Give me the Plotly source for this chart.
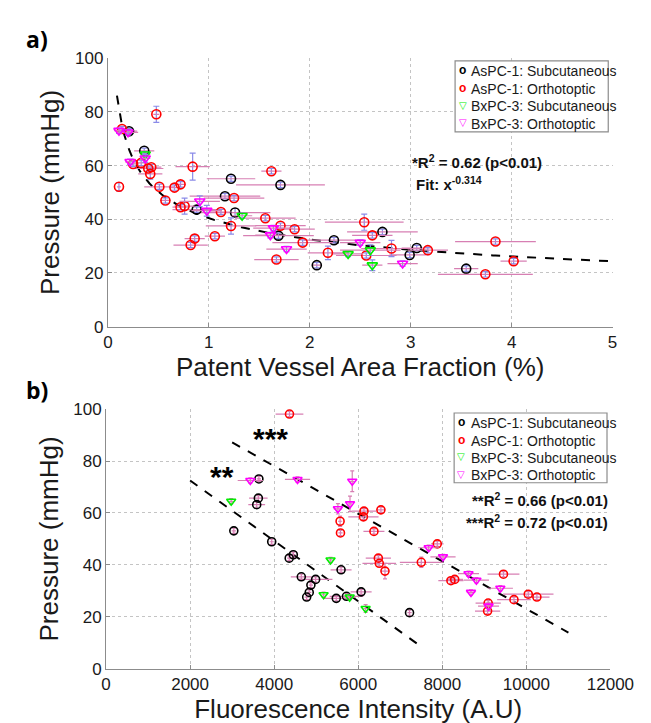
import numpy as np
import plotly.graph_objects as go

W, H = 651, 723
FONT = "Liberation Sans, Arial, Helvetica, sans-serif"

# ---------------- Panel a data: Patent vessel area fraction (%) vs pressure (mmHg)
a_sub1_x = [0.21, 0.36, 1.22, 1.71, 1.16, 0.88, 1.26, 1.69, 2.07, 2.24, 2.72, 3.06, 2.99, 3.55]
a_sub1_y = [72.8, 65.5, 55.1, 52.8, 48.6, 43.6, 42.5, 33.9, 22.9, 32.2, 35.3, 29.3, 26.7, 21.6]
a_sub1_xe = [0.08, 0.10, 0.24, 0.44, 0.35, 0.24, 0.35, 0.35, 0.05, 0.30, 0.35, 0.15, 0.20, 0.12]
a_sub1_ye = [1.0, 1.0, 1.0, 1.0, 1.0, 1.0, 1.5, 1.0, 1.0, 1.0, 1.0, 1.0, 1.0, 1.0]

a_ort1_x = [0.48, 0.14, 0.25, 0.33, 0.40, 0.43, 0.42, 0.11, 0.51, 0.66, 0.72, 0.84, 0.57, 0.76,
            0.72, 0.86, 0.82, 1.06, 1.12, 1.25, 1.22, 1.62, 1.56, 1.71, 1.85, 1.67, 1.93, 2.18,
            2.54, 2.62, 2.56, 2.81, 3.17, 3.84, 4.02, 3.74]
a_ort1_y = [79.1, 73.6, 60.6, 61.0, 58.9, 59.4, 56.9, 52.1, 52.1, 51.8, 53.0, 59.6, 47.0, 44.9,
            44.5, 32.8, 30.4, 33.7, 42.7, 47.9, 37.5, 57.9, 40.4, 37.6, 36.3, 25.0, 31.3, 27.5,
            38.9, 34.0, 26.5, 29.1, 28.5, 31.7, 24.4, 19.5]
a_ort1_xe = [0.03, 0.05, 0.05, 0.07, 0.15, 0.10, 0.12, 0.02, 0.15, 0.05, 0.05, 0.17, 0.05, 0.10,
             0.08, 0.10, 0.17, 0.10, 0.10, 0.30, 0.25, 0.10, 0.30, 0.25, 0.20, 0.22, 0.30, 0.20,
             0.39, 0.20, 0.30, 0.30, 0.20, 0.40, 0.13, 0.47]
a_ort1_ye = [3.0, 1.0, 1.0, 1.0, 1.0, 1.0, 2.0, 1.5, 1.0, 1.0, 1.0, 5.0, 1.0, 3.0,
             1.0, 1.0, 1.0, 1.0, 1.0, 1.0, 3.0, 1.0, 1.0, 1.0, 1.0, 1.0, 1.0, 2.5,
             3.0, 1.0, 1.0, 3.0, 1.0, 1.0, 1.0, 1.0]

a_sub3_x = [0.37, 1.33, 2.38, 2.60, 2.62]
a_sub3_y = [64.2, 41.3, 27.1, 28.5, 22.9]
a_sub3_xe = [0.05, 0.10, 0.15, 0.30, 0.10]
a_sub3_ye = [1.0, 1.0, 1.0, 2.0, 2.0]

a_ort3_x = [0.11, 0.20, 0.22, 0.37, 0.91, 0.98, 1.64, 1.61, 1.77, 2.50, 2.92]
a_ort3_y = [73.0, 72.4, 61.4, 62.7, 46.7, 43.2, 36.7, 34.1, 28.9, 31.3, 23.5]
a_ort3_xe = [0.05, 0.10, 0.05, 0.05, 0.20, 0.15, 0.20, 0.15, 0.20, 0.20, 0.15]
a_ort3_ye = [1.0, 1.0, 1.0, 1.5, 2.0, 2.0, 1.0, 1.0, 1.0, 1.0, 1.0]

a_fit_coef = 40.4
a_fit_exp = -0.314
a_fit_range = [0.09, 5.0]

# ---------------- Panel b data: Fluorescence intensity (A.U) vs pressure (mmHg)
b_sub1_x = [3636, 3623, 3584, 3039, 3941, 4455, 4357, 4645, 4986, 4873, 4834, 4773, 5591, 5477,
            5720, 6068, 7220]
b_sub1_y = [73.1, 65.7, 63.2, 53.1, 48.9, 43.9, 42.6, 35.4, 34.4, 32.2, 29.4, 27.6, 38.1, 27.1,
            27.9, 29.6, 21.6]
b_sub1_xe = [50, 220, 200, 50, 50, 50, 50, 250, 400, 50, 50, 50, 250, 300, 400, 250, 50]
b_sub1_ye = [1.0] * 17

b_ort1_x = [4364, 5568, 5577, 6136, 6123, 6373, 6539, 6478, 6500, 6636, 7500, 7880, 8205, 8295,
            9455, 9705, 10045, 10250, 9091, 9077]
b_ort1_y = [98.1, 56.8, 52.3, 60.7, 58.5, 52.9, 61.2, 42.6, 40.6, 37.6, 41.0, 48.1, 33.9, 34.4,
            36.4, 26.6, 28.7, 27.6, 25.3, 22.2]
b_ort1_xe = [330, 50, 50, 300, 360, 250, 100, 300, 400, 100, 510, 150, 300, 200,
             380, 400, 600, 300, 300, 300]
b_ort1_ye = [1.0, 2.0, 1.0, 1.0, 1.0, 1.0, 1.0, 1.0, 1.0, 3.0, 2.0, 1.0, 1.0, 1.0,
             1.0, 1.0, 1.0, 1.0, 1.0, 1.0]

b_sub3_x = [2977, 5341, 5175, 5795, 6175]
b_sub3_y = [64.5, 41.9, 28.5, 27.6, 23.2]
b_sub3_xe = [50, 50, 50, 150, 50]
b_sub3_ye = [1.0, 1.0, 1.0, 1.0, 1.5]

b_ort3_x = [3432, 4555, 5857, 5804, 5516, 7675, 8016, 8623, 8811, 8682, 9380, 9100]
b_ort3_y = [72.5, 72.9, 72.2, 63.5, 61.6, 46.6, 43.1, 36.6, 34.1, 29.4, 31.0, 24.1]
b_ort3_xe = [300, 300, 50, 50, 100, 250, 300, 250, 300, 100, 300, 250]
b_ort3_ye = [1.0, 1.0, 4.0, 3.0, 2.0, 1.0, 1.0, 1.0, 1.0, 1.0, 1.0, 1.5]

# linear fits (slope, intercept, x-range)
b_fit2 = (-0.011636, 95.77, [2000, 7500])    # ** fit
b_fit3 = (-0.0091625, 114.69, [3000, 11000])  # *** fit

series_names = ["AsPC-1: Subcutaneous", "AsPC-1: Orthotoptic",
                "BxPC-3: Subcutaneous", "BxPC-3: Orthotoptic"]
series_colors = ["#000000", "#ff0000", "#00ee00", "#ff00ff"]
series_symbols = ["circle-open", "circle-open", "triangle-down-open", "triangle-down-open"]
legend_glyphs = [("o", FONT, 12), ("o", FONT, 12),
                 ("▽", "DejaVu Sans, sans-serif", 10), ("▽", "DejaVu Sans, sans-serif", 10)]

PINK = "#d77fb3"
BLUE = "#8b8be8"

fig = go.Figure()

panel_a = [(a_sub1_x, a_sub1_y, a_sub1_xe, a_sub1_ye),
           (a_ort1_x, a_ort1_y, a_ort1_xe, a_ort1_ye),
           (a_sub3_x, a_sub3_y, a_sub3_xe, a_sub3_ye),
           (a_ort3_x, a_ort3_y, a_ort3_xe, a_ort3_ye)]
panel_b = [(b_sub1_x, b_sub1_y, b_sub1_xe, b_sub1_ye),
           (b_ort1_x, b_ort1_y, b_ort1_xe, b_ort1_ye),
           (b_sub3_x, b_sub3_y, b_sub3_xe, b_sub3_ye),
           (b_ort3_x, b_ort3_y, b_ort3_xe, b_ort3_ye)]

# fit curve panel a
fx = np.linspace(a_fit_range[0], a_fit_range[1], 200)
fig.add_trace(go.Scatter(x=fx, y=a_fit_coef * fx ** a_fit_exp, mode="lines",
                         line=dict(color="black", width=2, dash="dash"),
                         showlegend=False, xaxis="x", yaxis="y", hoverinfo="skip"))

for (x, y, xe, ye), nm, c, s in zip(panel_a, series_names, series_colors, series_symbols):
    fig.add_trace(go.Scatter(
        x=x, y=y, mode="markers", name=nm, showlegend=False,
        marker=dict(symbol=s, color=c, size=9, line=dict(width=1.6, color=c)),
        error_x=dict(type="data", array=xe, color=PINK, thickness=1.2, width=0),
        error_y=dict(type="data", array=ye, color=BLUE, thickness=1.2, width=3),
        xaxis="x", yaxis="y"))

for slope, icpt, rng in (b_fit2, b_fit3):
    lx = np.array(rng, dtype=float)
    fig.add_trace(go.Scatter(x=lx, y=icpt + slope * lx, mode="lines",
                             line=dict(color="black", width=2, dash="dash"),
                             showlegend=False, xaxis="x2", yaxis="y2", hoverinfo="skip"))

for (x, y, xe, ye), nm, c, s in zip(panel_b, series_names, series_colors, series_symbols):
    fig.add_trace(go.Scatter(
        x=x, y=y, mode="markers", name=nm, showlegend=False,
        marker=dict(symbol=s, color=c, size=8, line=dict(width=1.6, color=c)),
        error_x=dict(type="data", array=xe, color=PINK, thickness=1.2, width=0),
        error_y=dict(type="data", array=ye, color=PINK, thickness=1.2, width=2),
        xaxis="x2", yaxis="y2"))


def px_x(p):
    return p / W


def px_y(p):
    return 1 - p / H


axis_common = dict(
    showline=True, linecolor="#8c8c8c", linewidth=1,
    ticks="inside", ticklen=4, tickcolor="#8c8c8c",
    showgrid=True, gridcolor="#c4c4c4", griddash="dot", gridwidth=1,
    zeroline=False, tickfont=dict(family=FONT, size=17, color="#1a1a1a"),
    title_font=dict(family=FONT, size=26, color="#1a1a1a"),
    mirror=False, fixedrange=True,
)

fig.update_layout(
    width=W, height=H, margin=dict(l=0, r=0, t=0, b=0),
    paper_bgcolor="white", plot_bgcolor="white",
    font=dict(family=FONT, color="#1a1a1a"),
    showlegend=False,
    xaxis=dict(domain=[px_x(99.3), px_x(627.5)], range=[0, 5], dtick=1, anchor="y",
               title=dict(text="Patent Vessel Area Fraction (%)", standoff=2), **axis_common),
    yaxis=dict(domain=[px_y(318), px_y(42.3)], range=[0, 100], dtick=20, anchor="x",
               title=dict(text="Pressure (mmHg)", standoff=7), **axis_common),
    xaxis2=dict(domain=[px_x(97.4), px_x(625.3)], range=[0, 12000], dtick=2000, anchor="y2",
                tickformat="d",
                title=dict(text="Fluorescence Intensity (A.U)", standoff=2), **axis_common),
    yaxis2=dict(domain=[px_y(669.3), px_y(402.7)], range=[0, 100], dtick=20, anchor="x2",
                title=dict(text="Pressure (mmHg)", standoff=7), **axis_common),
)

# ---- legend boxes (drawn as a box with symbol glyphs and labels)
legend_boxes = [
    dict(x0=462.7, x1=623.0, y0=45.0, y1=118.0, rows=[55.5, 73.5, 91.5, 109.5], sym_x=470.5, txt_x=477.5),
    dict(x0=461.7, x1=621.7, y0=406.7, y1=478.3, rows=[417.3, 435.0, 452.7, 470.5], sym_x=469.3, txt_x=477.0),
]
shapes = []
annotations = []
for lb in legend_boxes:
    shapes.append(dict(type="rect", xref="paper", yref="paper",
                       x0=px_x(lb["x0"]), x1=px_x(lb["x1"]), y0=px_y(lb["y1"]), y1=px_y(lb["y0"]),
                       line=dict(color="#8c8c8c", width=1.2), fillcolor="white", layer="above"))
    for ry, nm, c, (g, gf, gs) in zip(lb["rows"], series_names, series_colors, legend_glyphs):
        annotations.append(dict(text="<b>" + g + "</b>", x=px_x(lb["sym_x"]), y=px_y(ry - 1),
                                xanchor="center", yanchor="middle",
                                font=dict(family=gf, size=gs, color=c)))
        annotations.append(dict(text=nm, x=px_x(lb["txt_x"]), y=px_y(ry),
                                xanchor="left", yanchor="middle",
                                font=dict(family=FONT, size=14, color="#1a1a1a")))

ann_font = dict(family=FONT, size=15, color="#111111")
annotations += [
    dict(text="<b>a)</b>", x=px_x(11), y=px_y(23), xanchor="left", yanchor="middle",
         font=dict(family="Open Sans, sans-serif", size=23, color="black")),
    dict(text="<b>b)</b>", x=px_x(11), y=px_y(383), xanchor="left", yanchor="middle",
         font=dict(family="Open Sans, sans-serif", size=23, color="black")),
    dict(text="<b>*R<sup>2</sup> = 0.62 (p&lt;0.01)</b>", x=px_x(415), y=px_y(148),
         xanchor="left", yanchor="middle", font=ann_font),
    dict(text="<b>Fit: x<sup>-0.314</sup></b>", x=px_x(420), y=px_y(171),
         xanchor="left", yanchor="middle", font=ann_font),
    dict(text="<b>**R<sup>2</sup> = 0.66 (p&lt;0.01)</b>", x=px_x(625), y=px_y(496),
         xanchor="right", yanchor="middle", font=ann_font),
    dict(text="<b>***R<sup>2</sup> = 0.72 (p&lt;0.01)</b>", x=px_x(625), y=px_y(518),
         xanchor="right", yanchor="middle", font=ann_font),
    dict(text="<b>***</b>", x=px_x(269), y=px_y(433), xanchor="center", yanchor="middle",
         font=dict(family=FONT, size=30, color="black")),
    dict(text="<b>**</b>", x=px_x(219), y=px_y(472), xanchor="center", yanchor="middle",
         font=dict(family=FONT, size=30, color="black")),
]
for a in annotations:
    a.update(xref="paper", yref="paper", showarrow=False)
fig.update_layout(annotations=annotations, shapes=shapes)

fig.write_html("out.html")
